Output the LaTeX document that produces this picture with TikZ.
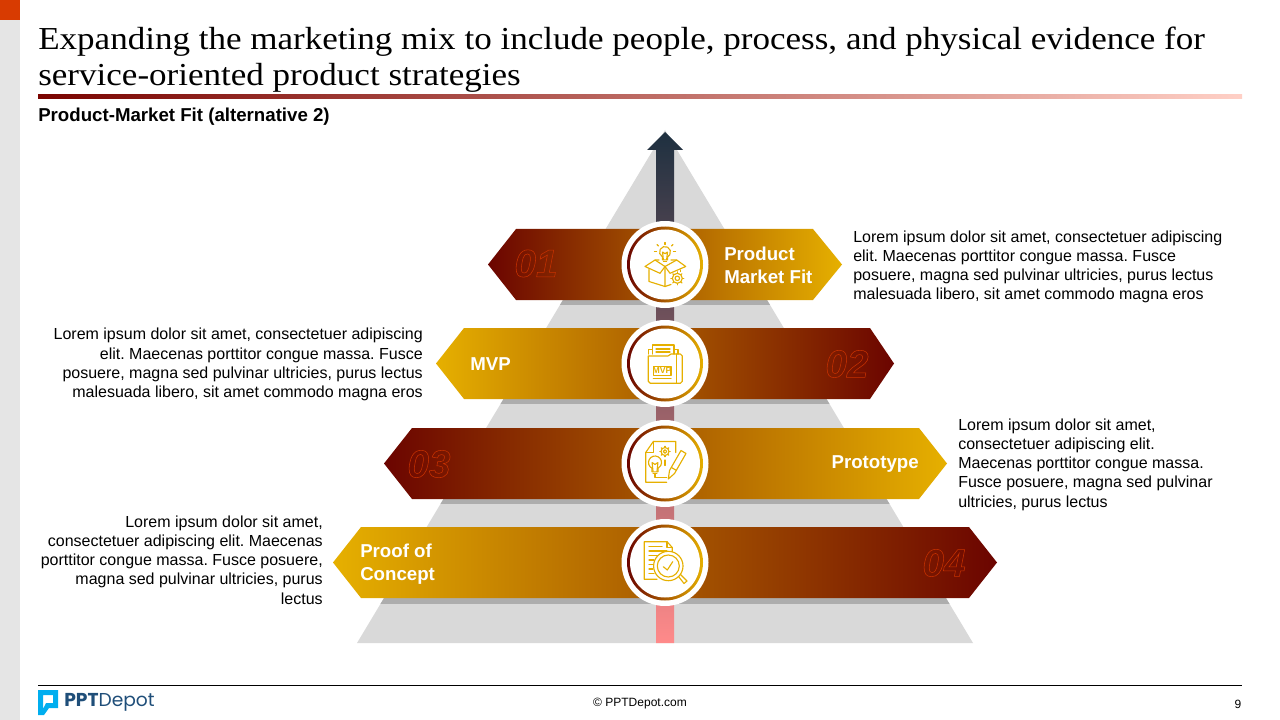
\documentclass[tikz,border=0pt]{standalone}
\usepackage{fontspec}
\setmainfont{Liberation Sans}
\newfontfamily\titlefont[FakeStretch=1.095]{Liberation Serif}
\newfontfamily\logofont{Poppins}
\usetikzlibrary{calc}
\frenchspacing
\definecolor{darkred}{HTML}{6B0400}
\definecolor{gold}{HTML}{E6B000}
\definecolor{numline}{HTML}{C83200}
\definecolor{logoblue}{HTML}{1F4E79}
\definecolor{logocyan}{HTML}{00AEEF}
\tikzset{
	bodytext/.style={black, inner sep=0pt, font=\fontsize{12}{14.4}\selectfont},
	bannertext/.style={white, inner sep=0pt, align=left, font=\fontsize{14}{17.2}\selectfont\bfseries},
	numtext/.style={inner sep=0pt, font=\fontsize{29}{29}\selectfont\bfseries\itshape},
	icon/.style={draw=gold, line width=0.85pt, line join=round, line cap=round},
}
\newcommand{\outlinenum}[1]{\special{pdf:code 1 Tr 0.4 w 0.784 0.196 0 RG}#1\special{pdf:code 0 Tr}}
\newcommand{\gearshape}[3]{%
	\draw[icon] (#1,#2) circle[radius=#3];
	\draw[icon] (#1,#2) circle[radius=#3*0.45];
	\foreach \a in {0,45,...,315}
		\draw[icon] ($(#1,#2)+(\a:#3)$) -- ($(#1,#2)+(\a:#3*1.3)$);
}
\newcommand{\bulbshape}[3]{%
	\draw[icon] ($(#1,#2)+(118:#3)$) arc[start angle=118, end angle=422, radius=#3] -- ++(0,#3*0.55) -- ++(-#3*0.94,0) -- cycle;
	\draw[icon] ($(#1,#2)+(-#3*0.3,#3*1.7)$) -- ++(#3*0.6,0);
	\draw[icon] ($(#1,#2)+(-#3*0.3,#3*1.4)$) -- ($(#1,#2)+(-#3*0.45,0)$) -- ($(#1,#2)+(0,#3*0.3)$) -- ($(#1,#2)+(#3*0.45,0)$) -- ($(#1,#2)+(#3*0.3,#3*1.4)$);
}
\begin{document}
\begin{tikzpicture}[x=0.75pt, y=-0.75pt]
	\useasboundingbox (0,0) rectangle (1280,720);
	% page furniture
	\fill[fill=black!10] (0,0) rectangle (20,720);
	\fill[fill={rgb,255:red,216;green,59;blue,1}] (0,0) rectangle (20,20);
	\node[black, inner sep=0pt, anchor=west, align=left, font=\fontsize{24}{27}\titlefont] (title) at (38,59.5) {Expanding the marketing mix to include people, process, and physical evidence for\\service-oriented product strategies};
	\path[left color=darkred!90!red, right color={rgb,255:red,255;green,208;blue,198}] (38,95) rectangle (1242,99);
	\node[black, inner sep=0pt, anchor=west, font=\fontsize{14}{16}\selectfont\bfseries] (subtitle) at (38,117) {Product-Market Fit (alternative 2)};
	% pyramid
	\fill[fill=black!15] (665,130) -- (973,643) -- (357,643) -- cycle;
	\begin{scope}
		\clip (665,130) -- (973,643) -- (357,643) -- cycle;
		\fill[fill=black!32] (300,299) rectangle (1000,304.5);
		\fill[fill=black!32] (300,398) rectangle (1000,403.5);
		\fill[fill=black!32] (300,498) rectangle (1000,503.5);
		\fill[fill=black!32] (300,597) rectangle (1000,603.5);
	\end{scope}
	\path[top color={rgb,255:red,30;green,48;blue,64}, bottom color={rgb,255:red,255;green,138;blue,138}] (665,132) -- (683,150) -- (674,150) -- (674,643) -- (656,643) -- (656,150) -- (647,150) -- cycle;
	% banners
	\path[left color=darkred, right color=gold] (488,264.5) -- (516,229) -- (813,229) -- (842,264.5) -- (813,300) -- (516,300) -- cycle;
	\path[left color=gold, right color=darkred] (436,363.5) -- (464,328) -- (870,328) -- (894,363.5) -- (870,399) -- (464,399) -- cycle;
	\path[left color=darkred, right color=gold] (384,463.5) -- (412,428) -- (919,428) -- (947,463.5) -- (919,499) -- (412,499) -- cycle;
	\path[left color=gold, right color=darkred] (333,562.5) -- (361,527) -- (969,527) -- (997,562.5) -- (969,598) -- (361,598) -- cycle;
	\node[numtext] (num01) at (536,263.5) {\outlinenum{01}};
	\node[numtext] (num02) at (847,364) {\outlinenum{02}};
	\node[numtext] (num03) at (429,464) {\outlinenum{03}};
	\node[numtext] (num04) at (944,563) {\outlinenum{04}};
	\node[bannertext, anchor=west] (label01) at (724,265.5) {Product\\Market Fit};
	\node[bannertext, anchor=west] (label02) at (470,364) {MVP};
	\node[bannertext, anchor=east] (label03) at (919,464) {Prototype};
	\node[bannertext, anchor=west] (label04) at (360,564) {Proof of\\Concept};
	% circles
	\fill[white] (665,264.5) circle[radius=43.5];
	\path[left color=darkred, right color=gold] (665,264.5) circle[radius=38];
	\fill[white] (665,264.5) circle[radius=35];
	\fill[white] (665,363.5) circle[radius=43.5];
	\path[left color=darkred, right color=gold] (665,363.5) circle[radius=38];
	\fill[white] (665,363.5) circle[radius=35];
	\fill[white] (665,463.5) circle[radius=43.5];
	\path[left color=darkred, right color=gold] (665,463.5) circle[radius=38];
	\fill[white] (665,463.5) circle[radius=35];
	\fill[white] (665,562.5) circle[radius=43.5];
	\path[left color=darkred, right color=gold] (665,562.5) circle[radius=38];
	\fill[white] (665,562.5) circle[radius=35];
	% box icon
	\begin{scope}[shift={(665,264.5)}]
		\draw[icon] (0,2) -- (-5,8.8) -- (-20,2) -- (-10,-4.5) -- (-6,-4.5);
		\draw[icon] (0,2) -- (5,8.8) -- (20.7,2) -- (11.7,-4.5) -- (6,-4.5);
		\draw[icon] (-10,-4.5) -- (0,2) -- (11.7,-4.5);
		\draw[icon] (-16,5) -- (-16,17) -- (0,22) -- (0,2);
		\draw[icon] (0,22) -- (6,20);
		\draw[icon] (15.7,5.5) -- (15.7,7);
		\gearshape{12.3}{13.8}{5}
		\bulbshape{0}{-12.5}{5.5}
		\draw[icon] (0,-22) -- (0,-20);
		\draw[icon] (-8,-20) -- (-6.5,-18.5);
		\draw[icon] (8,-20) -- (6.5,-18.5);
		\draw[icon] (-10.5,-13) -- (-8.5,-13);
		\draw[icon] (10.5,-13) -- (8.5,-13);
	\end{scope}
	% mvp icon
	\begin{scope}[shift={(665,363.5)}]
		\draw[icon] (-12.7,-9.5) -- (-12.7,-18.5) -- (9,-18.5) -- (9,-9.5);
		\draw[icon] (-12.7,-14) -- (-16.7,-14) -- (-16.7,-9.5);
		\draw[icon] (9,-14) -- (13,-14) -- (13,-9.5);
		\draw[icon] (-16.7,-7.5) -- (3,-7.5) -- (6,-9.5) -- (15.3,-9.5) -- (17.3,-7.5) -- (17.3,17.8) -- (15.3,19.8) -- (-14.7,19.8) -- (-16.7,17.8) -- cycle;
		\draw[icon] (-9,-14.5) -- (5,-14.5);
		\draw[icon] (-9,-11.5) -- (5,-11.5);
		\draw[icon] (11.5,-9.5) -- (11.5,19.8);
		\draw[icon] (-11.7,3) rectangle (6,12);
		\draw[icon] (-11.7,15) -- (6,15);
		\node[gold, inner sep=0pt, font=\fontsize{6.5}{6.5}\selectfont\bfseries] (mvpmark) at (-3,7.5) {MVP};
	\end{scope}
	% prototype icon
	\begin{scope}[shift={(665,463.5)}]
		\draw[icon] (1.7,18.8) -- (-19.3,18.8) -- (-19.3,-11) -- (-11.7,-22) -- (10.7,-22) -- (10.7,-11);
		\draw[icon] (-19.3,-11) -- (-11.7,-11) -- (-11.7,-22);
		\gearshape{0}{-12}{4}
		\draw[icon] (0,-3.5) -- (0,2);
		\bulbshape{-10}{-1}{6.5}
		\draw[icon] (-10,10.5) -- (-10,14) -- (1.7,14);
		\draw[icon] (3.3,15.5) -- (4.5,7) -- (16,-13) -- (21,-10) -- (9.5,10) -- cycle;
		\draw[icon] (6.5,4) -- (11.5,7);
	\end{scope}
	% proof icon
	\begin{scope}[shift={(665,562.5)}]
		\draw[icon] (-8,16.8) -- (-20.7,16.8) -- (-20.7,-20.8) -- (2,-20.8) -- (7.3,-15) -- (7.3,-10);
		\draw[icon] (2,-20.8) -- (2,-15) -- (7.3,-15);
		\draw[icon] (-16,-16) -- (-3,-16);
		\draw[icon] (-16,-11.5) -- (2,-11.5);
		\draw[icon] (-16,-7) -- (-6,-7);
		\draw[icon] (-16,-2.5) -- (-11,-2.5);
		\draw[icon] (-16,2) -- (-12,2);
		\draw[icon] (-16,6.5) -- (-12,6.5);
		\draw[icon] (-16,11) -- (-11,11);
		\draw[icon, fill=white] (3.3,3.5) circle[radius=14.7];
		\draw[icon] (3.3,3.5) circle[radius=11];
		\draw[icon] (-1.7,4.2) -- (2.3,7.5) -- (7.7,-0.8);
		\draw[icon] (13.5,14) -- (19,21) -- (22,18.5) -- (15.5,12);
	\end{scope}
	% descriptions
	\node[bodytext, anchor=west, align=left] (text01) at (853,267) {Lorem ipsum dolor sit amet, consectetuer adipiscing\\elit. Maecenas porttitor congue massa. Fusce\\posuere, magna sed pulvinar ultricies, purus lectus\\malesuada libero, sit amet commodo magna eros};
	\node[bodytext, anchor=east, align=right] (text02) at (423,364.5) {Lorem ipsum dolor sit amet, consectetuer adipiscing\\elit. Maecenas porttitor congue massa. Fusce\\posuere, magna sed pulvinar ultricies, purus lectus\\malesuada libero, sit amet commodo magna eros};
	\node[bodytext, anchor=west, align=left] (text03) at (958,464.5) {Lorem ipsum dolor sit amet,\\consectetuer adipiscing elit.\\Maecenas porttitor congue massa.\\Fusce posuere, magna sed pulvinar\\ultricies, purus lectus};
	\node[bodytext, anchor=east, align=right] (text04) at (323,560) {Lorem ipsum dolor sit amet,\\consectetuer adipiscing elit. Maecenas\\porttitor congue massa. Fusce posuere,\\magna sed pulvinar ultricies, purus\\lectus};
	% footer
	\draw[draw=black, line width=0.75pt] (38,685) -- (1242,685);
	\fill[fill=logocyan, even odd rule] (38,690) -- (58,690) -- (58,708) -- (49,708) -- (44,715) -- (38,715) -- cycle (43,695) -- (53,695) -- (53,703) -- (46,703) -- (43,709) -- cycle;
	\node[logoblue, inner sep=0pt, anchor=west, font=\fontsize{14}{14}\logofont] (logo) at (64,702.5) {\textbf{PPT}Depot};
	\node[black, inner sep=0pt, font=\fontsize{9}{9}\selectfont] (footer) at (640,704) {© PPTDepot.com};
	\node[black, inner sep=0pt, font=\fontsize{9}{9}\selectfont] (pagenum) at (1238,704) {9};
\end{tikzpicture}
\end{document}
